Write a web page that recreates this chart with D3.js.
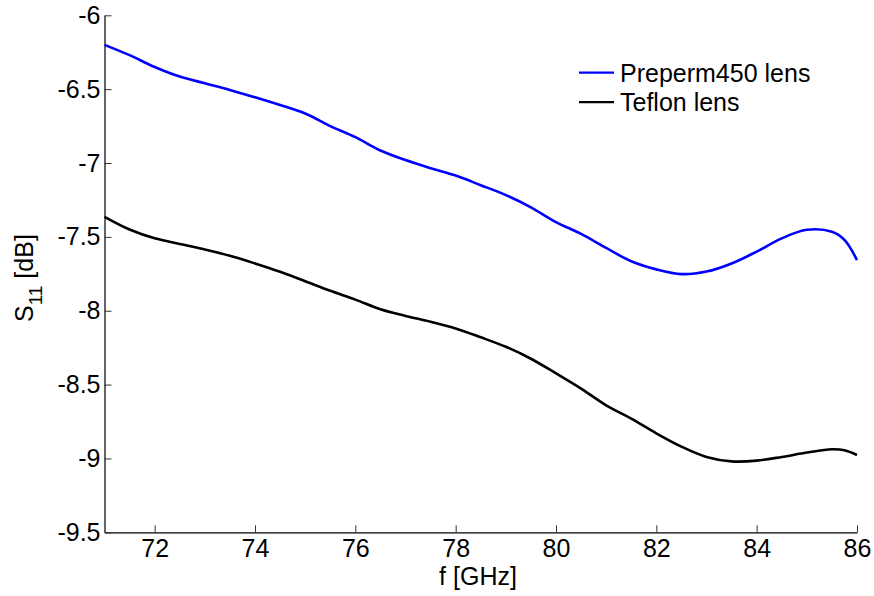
<!DOCTYPE html>
<html>
<head>
<meta charset="utf-8">
<script src="https://cdn.jsdelivr.net/npm/d3@7"></script>
<style>
  html, body { margin: 0; padding: 0; background: #fff; }
  svg { display: block; font-family: Arial, "Liberation Sans", Helvetica, sans-serif; }
</style>
</head>
<body>
<svg id="chart" width="874" height="596"></svg>
<script>
// Frequency samples [GHz]
const freq = [71, 71.5, 72, 72.5, 73, 73.5, 74, 74.5, 75, 75.5, 76, 76.5, 77, 77.5,
              78, 78.5, 79, 79.5, 80, 80.5, 81, 81.5, 82, 82.5, 83, 83.5, 84, 84.5,
              85, 85.5, 85.75, 86];

// Reflection coefficient S11 [dB]
const preperm = [-6.20, -6.27, -6.35, -6.415, -6.46, -6.505, -6.555, -6.607, -6.665, -6.75,
                 -6.825, -6.915, -6.98, -7.035, -7.085, -7.15, -7.217, -7.30, -7.40, -7.48,
                 -7.575, -7.665, -7.72, -7.752, -7.735, -7.68, -7.60, -7.51, -7.452, -7.465,
                 -7.52, -7.657];
const teflon  = [-7.364, -7.45, -7.51, -7.548, -7.585, -7.628, -7.68, -7.736, -7.80, -7.865,
                 -7.925, -7.99, -8.035, -8.075, -8.12, -8.18, -8.244, -8.325, -8.424, -8.527,
                 -8.64, -8.73, -8.83, -8.92, -8.99, -9.02, -9.015, -8.99, -8.96, -8.938,
                 -8.945, -8.977];

const seriesNames  = ["Preperm450 lens", "Teflon lens"];
const seriesColors = ["#0000ff", "#000000"];

const xTicks = [72, 74, 76, 78, 80, 82, 84, 86];
const yTicks = [-6, -6.5, -7, -7.5, -8, -8.5, -9, -9.5];

const svg = d3.select("#chart");
const plotLeft = 104.5, plotRight = 857, plotTop = 15.3, plotBottom = 532.3;

const x = d3.scaleLinear().domain([71, 86]).range([plotLeft, plotRight]);
const y = d3.scaleLinear().domain([-9.5, -6]).range([plotBottom, plotTop]);

const fontSize = 25;

// Axes with inward ticks
const xAxis = d3.axisBottom(x).tickValues(xTicks).tickSizeInner(-7).tickSizeOuter(0)
  .tickPadding(7).tickFormat(d3.format("d"));
const yAxis = d3.axisLeft(y).tickValues(yTicks).tickSizeInner(-7).tickSizeOuter(0)
  .tickPadding(4).tickFormat(d => String(d));

const gx = svg.append("g").attr("transform", `translate(0,${plotBottom})`).call(xAxis);
const gy = svg.append("g").attr("transform", `translate(${plotLeft},0)`).call(yAxis);

[gx, gy].forEach(g => {
  g.select(".domain").attr("stroke", "#000").attr("stroke-width", 1.2);
  g.selectAll(".tick line").attr("stroke", "#333").attr("stroke-width", 1);
  g.selectAll(".tick text").attr("fill", "#000").style("font-size", fontSize + "px")
    .style("font-family", "Arial, 'Liberation Sans', sans-serif");
});

// Curves
const data = [preperm, teflon];
const line = d3.line()
  .x((d, i) => x(freq[i]))
  .y(d => y(d))
  .curve(d3.curveCatmullRom.alpha(0.5));

data.forEach((vals, k) => {
  svg.append("path")
    .datum(vals)
    .attr("fill", "none")
    .attr("stroke", seriesColors[k])
    .attr("stroke-width", 2.6)
    .attr("stroke-linejoin", "round")
    .attr("d", line);
});

// Legend
const legend = svg.append("g");
seriesNames.forEach((name, k) => {
  const ly = 72.7 + k * 29.5;
  legend.append("line")
    .attr("x1", 579).attr("x2", 614).attr("y1", ly).attr("y2", ly)
    .attr("stroke", seriesColors[k]).attr("stroke-width", 2.2);
  legend.append("text")
    .attr("x", 620).attr("y", ly).attr("dy", "0.36em")
    .style("font-size", fontSize + "px")
    .text(name);
});

// Axis labels
svg.append("text")
  .attr("x", 478).attr("y", 585)
  .attr("text-anchor", "middle")
  .style("font-size", fontSize + "px")
  .text("f [GHz]");

const yl = svg.append("text")
  .attr("transform", `translate(33,322) rotate(-90)`)
  .attr("text-anchor", "start")
  .style("font-size", fontSize + "px");
yl.append("tspan").text("S");
yl.append("tspan").attr("dy", 9).style("font-size", "19px").text("11");
yl.append("tspan").attr("dy", -9).text(" [dB]");
</script>
</body>
</html>
